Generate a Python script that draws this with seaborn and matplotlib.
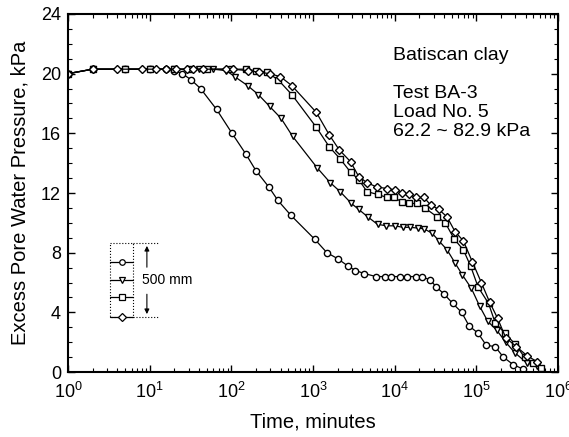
import numpy as np
import pandas as pd
import matplotlib
matplotlib.use("Agg")
import matplotlib.pyplot as plt
from matplotlib.ticker import MultipleLocator, LogLocator, NullFormatter
import seaborn as sns


# DATA (time in minutes, excess pore pressure in kPa)

t_circle = [1, 2, 5, 10, 16, 20, 25, 32, 42, 66, 102, 151, 200, 288, 372, 537,
            1050, 1480, 2000, 2690, 3310, 4270, 5890, 7590, 9120, 11500, 14100,
            18200, 21900, 26900, 32400, 40700, 51300, 66100, 81300, 105000,
            132000, 170000, 214000, 282000, 372000]
u_circle = [20.0, 20.3, 20.3, 20.3, 20.3, 20.2, 20.0, 19.6, 19.0, 17.6, 16.0,
            14.6, 13.5, 12.4, 11.5, 10.5, 8.9, 8.0, 7.6, 7.1, 6.8, 6.6, 6.4,
            6.4, 6.4, 6.4, 6.4, 6.4, 6.35, 6.2, 5.7, 5.2, 4.6, 4.0, 3.1, 2.6,
            1.8, 1.7, 1.0, 0.5, 0.2]

t_tri = [1, 2, 5, 10, 20, 40, 60, 87, 110, 158, 214, 295, 407, 562, 1120, 1620,
         2140, 2950, 3630, 4680, 6170, 7940, 10000, 12600, 15500, 19100, 22900,
         28800, 34700, 43700, 55000, 67600, 87100, 110000, 138000, 178000,
         229000, 295000, 417000, 550000]
u_tri = [20.0, 20.3, 20.3, 20.3, 20.3, 20.3, 20.3, 20.2, 19.8, 19.2, 18.6, 17.8,
         17.0, 15.8, 13.7, 12.7, 12.1, 11.3, 10.9, 10.4, 9.9, 9.8, 9.8, 9.7,
         9.7, 9.65, 9.6, 9.3, 8.8, 8.2, 7.3, 6.5, 5.6, 4.4, 3.4, 2.8, 2.0, 1.3,
         0.6, 0.4]

t_sq = [1, 2, 5, 10, 20, 30, 50, 100, 150, 200, 270, 372, 550, 1100, 1580,
        2140, 2880, 3630, 4570, 6170, 8130, 9770, 12300, 14800, 18600, 23400,
        33100, 41700, 53700, 69200, 85100, 105000, 141000, 170000, 224000,
        295000, 389000, 490000, 617000]
u_sq = [20.0, 20.3, 20.3, 20.3, 20.3, 20.3, 20.3, 20.3, 20.3, 20.2, 20.1, 19.6,
        18.6, 16.4, 15.1, 14.3, 13.4, 12.9, 12.1, 11.9, 11.7, 11.7, 11.4, 11.3,
        11.3, 11.0, 10.4, 10.0, 8.9, 8.2, 7.1, 5.7, 4.6, 3.3, 2.6, 1.9, 1.0,
        0.6, 0.3]

t_dia = [1, 2, 4, 8, 12, 16, 21, 29, 34, 45, 86, 105, 158, 218, 295, 398, 550,
         1100, 1580, 2090, 2880, 3630, 4570, 6030, 8130, 10000, 12300, 15100,
         18200, 22900, 27500, 34700, 43700, 55000, 69200, 89100, 115000,
         145000, 182000, 229000, 309000, 417000, 550000]
u_dia = [20.0, 20.3, 20.3, 20.3, 20.3, 20.3, 20.3, 20.3, 20.3, 20.3, 20.3, 20.3,
         20.2, 20.1, 20.0, 19.8, 19.2, 17.4, 15.9, 14.9, 14.1, 13.1, 12.7, 12.4,
         12.3, 12.2, 12.0, 11.9, 11.7, 11.7, 11.2, 10.9, 10.4, 9.4, 8.8, 7.4,
         6.0, 4.7, 3.6, 2.3, 1.7, 1.1, 0.7]

series = [
    ("circle", t_circle, u_circle, "o", 4.5),
    ("tri", t_tri, u_tri, "v", 5.0),
    ("sq", t_sq, u_sq, "s", 4.5),
    ("dia", t_dia, u_dia, "D", 4.5),
]

info_lines = ["Test BA-3", "Load No. 5", "62.2 ~ 82.9 kPa"]


# PLOT

sns.set_style("ticks")
plt.rcParams["font.family"] = ["Liberation Sans", "DejaVu Sans"]
plt.rcParams["mathtext.fontset"] = "custom"
plt.rcParams["mathtext.rm"] = "Liberation Sans"
plt.rcParams["text.color"] = "black"
plt.rcParams["axes.labelcolor"] = "black"
plt.rcParams["xtick.color"] = "black"
plt.rcParams["ytick.color"] = "black"

fig = plt.figure(figsize=(5.69, 4.37), dpi=100)
ax = fig.add_axes([0.1195, 0.1487, 0.8612, 0.8193])

for name, t, u, m, ms in series:
    df = pd.DataFrame({"t": t, "u": u})
    sns.lineplot(data=df, x="t", y="u", ax=ax, color="black", lw=0.9,
                 marker=m, markersize=ms, markerfacecolor="white",
                 markeredgecolor="black", markeredgewidth=1.0,
                 sort=False, estimator=None)

ax.set_xscale("log")
ax.set_xlim(1, 1e6)
ax.set_ylim(0, 24)
ax.yaxis.set_major_locator(MultipleLocator(4))
ax.yaxis.set_minor_locator(MultipleLocator(1))
ax.xaxis.set_major_locator(LogLocator(base=10, numticks=10))
ax.xaxis.set_minor_locator(LogLocator(base=10, subs=np.arange(2, 10), numticks=10))
ax.xaxis.set_minor_formatter(NullFormatter())

ax.tick_params(which="both", direction="in", top=True, right=True,
               labelsize=13, colors="black", labelcolor="black")
ax.tick_params(which="major", length=5, width=1.0)
ax.tick_params(which="minor", length=3, width=0.8)
ax.tick_params(axis="x", pad=7)
ax.tick_params(axis="y", pad=5)
for s in ax.spines.values():
    s.set_linewidth(1.5)
    s.set_color("black")

ax.set_xlabel("Time, minutes", fontsize=14.5, labelpad=8, color="black")
ax.set_ylabel("Excess Pore Water Pressure, kPa", fontsize=14.5, labelpad=8,
              color="black")

# annotations
ax.text(0.663, 0.885, "Batiscan clay", transform=ax.transAxes,
        fontsize=14, va="center", ha="left", color="black")
for i, line in enumerate(info_lines):
    ax.text(0.663, 0.779 - i * 0.053, line, transform=ax.transAxes,
            fontsize=14, va="center", ha="left", color="black")

# sample sketch (inset)
tr = ax.transAxes
x0, x1, xm = 0.0857, 0.133, 0.110
y_top, y_bot = 0.360, 0.154
ax.plot([x0, x1, x1, x0, x0], [y_top, y_top, y_bot, y_bot, y_top],
        transform=tr, color="black", lw=0.8, ls=":")
rows = [(0.307, "o"), (0.257, "v"), (0.209, "s"), (0.154, "D")]
for yy, m in rows:
    ax.plot([x0, x1], [yy, yy], transform=tr, color="black", lw=0.9)
    ax.plot([xm], [yy], transform=tr, marker=m, ms=4, mfc="white",
            mec="black", mew=0.9, color="black")
ax.plot([x1, 0.184], [y_top, y_top], transform=tr, color="black", lw=0.8, ls=":")
ax.plot([x1, 0.184], [y_bot, y_bot], transform=tr, color="black", lw=0.8, ls=":")
ax.annotate("", xy=(0.161, y_top), xytext=(0.161, 0.285), xycoords=tr,
            arrowprops=dict(arrowstyle="-|>", lw=0.8, color="black",
                            mutation_scale=7))
ax.annotate("", xy=(0.161, y_bot), xytext=(0.161, 0.225), xycoords=tr,
            arrowprops=dict(arrowstyle="-|>", lw=0.8, color="black",
                            mutation_scale=7))
ax.text(0.151, 0.257, "500 mm", transform=tr, fontsize=10, va="center",
        ha="left", color="black", bbox=dict(fc="white", ec="none", pad=0.5))

fig.savefig("out.png", dpi=100)
